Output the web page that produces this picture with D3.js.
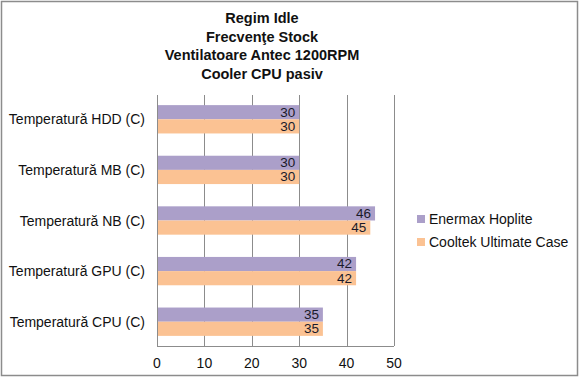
<!DOCTYPE html>
<html>
<head>
<meta charset="utf-8">
<script src="https://cdn.jsdelivr.net/npm/d3@7"></script>
<style>
  body { margin: 0; background: #fff; }
  text { font-family: Arial, "Liberation Sans", sans-serif; }
</style>
</head>
<body>
<div id="chart"></div>
<script>
// Data
const titleLines = ["Regim Idle", "Frecvenţe Stock", "Ventilatoare Antec 1200RPM", "Cooler CPU pasiv"];
const categories = ["Temperatură HDD (C)", "Temperatură MB (C)", "Temperatură NB (C)", "Temperatură GPU (C)", "Temperatură CPU (C)"];
const seriesNames = ["Enermax Hoplite", "Cooltek Ultimate Case"];
const enermax = [30, 30, 46, 42, 35];
const cooltek = [30, 30, 45, 42, 35];
const xTicks = [0, 10, 20, 30, 40, 50];
const colors = ["#ab9fc9", "#fbc293"];

const W = 580, H = 378;
const margin = { top: 95, right: 186, bottom: 32, left: 157 };
const width = W - margin.left - margin.right;
const height = H - margin.top - margin.bottom;

const svg = d3.select("#chart")
    .append("svg")
    .attr("width", W)
    .attr("height", H);

// outer border
svg.append("rect")
    .attr("x", 1.5).attr("y", 1.5)
    .attr("width", W - 4).attr("height", H - 4)
    .attr("fill", "#fff")
    .attr("stroke", "#8c8c8c")
    .attr("stroke-width", 1.5);

// title
svg.append("g").selectAll("text")
    .data(titleLines)
    .enter()
    .append("text")
    .attr("x", 262)
    .attr("y", (d, i) => 23 + i * 18.7)
    .attr("text-anchor", "middle")
    .attr("font-size", 14.5)
    .attr("font-weight", "bold")
    .attr("fill", "#111")
    .text(d => d);

const g = svg.append("g")
    .attr("transform", `translate(${margin.left},${margin.top})`);

const x = d3.scaleLinear().domain([0, 50]).range([0, width]);
const y = d3.scaleBand().domain(categories).range([0, height]).paddingInner(0.44).paddingOuter(0.2);
const ySub = d3.scaleBand().domain(seriesNames).range([0, y.bandwidth()]);

// gridlines
g.append("g").selectAll("line")
    .data(xTicks.slice(1))
    .enter()
    .append("line")
    .attr("x1", d => Math.round(x(d)) + 0.5)
    .attr("x2", d => Math.round(x(d)) + 0.5)
    .attr("y1", 0)
    .attr("y2", height)
    .attr("stroke", "#8c8c8c")
    .attr("stroke-width", 1);

// bars
const values = [enermax, cooltek];
seriesNames.forEach((s, si) => {
    g.append("g").selectAll("rect")
        .data(categories.map((c, i) => ({ c, v: values[si][i] })))
        .enter()
        .append("rect")
        .attr("x", 0)
        .attr("y", d => y(d.c) + ySub(s))
        .attr("width", d => x(d.v))
        .attr("height", ySub.bandwidth())
        .attr("fill", colors[si]);

    g.append("g").selectAll("text")
        .data(categories.map((c, i) => ({ c, v: values[si][i] })))
        .enter()
        .append("text")
        .attr("x", d => x(d.v) - 4)
        .attr("y", d => y(d.c) + ySub(s) + ySub.bandwidth() / 2)
        .attr("dy", "0.36em")
        .attr("text-anchor", "end")
        .attr("font-size", 12)
        .attr("textLength", 15)
        .attr("lengthAdjust", "spacingAndGlyphs")
        .attr("fill", "#1a1a2a")
        .text(d => d.v);
});

// axes lines
g.append("line")
    .attr("x1", 0.5).attr("x2", 0.5)
    .attr("y1", 0).attr("y2", height)
    .attr("stroke", "#8c8c8c");
g.append("line")
    .attr("x1", 0).attr("x2", width)
    .attr("y1", height + 0.5).attr("y2", height + 0.5)
    .attr("stroke", "#8c8c8c");

// x tick labels
g.append("g").selectAll("text")
    .data(xTicks)
    .enter()
    .append("text")
    .attr("x", d => x(d))
    .attr("y", height + 22)
    .attr("text-anchor", "middle")
    .attr("font-size", 14)
    .attr("fill", "#111")
    .text(d => d);

// category labels
g.append("g").selectAll("text")
    .data(categories)
    .enter()
    .append("text")
    .attr("x", -12)
    .attr("y", d => y(d) + y.bandwidth() / 2)
    .attr("dy", "0.36em")
    .attr("text-anchor", "end")
    .attr("font-size", 14)
    .attr("fill", "#111")
    .text(d => d);

// legend
const legend = svg.append("g").attr("transform", "translate(417,219)");
seriesNames.forEach((s, i) => {
    legend.append("rect")
        .attr("x", 0)
        .attr("y", i * 23 - 4)
        .attr("width", 8)
        .attr("height", 8)
        .attr("fill", colors[i]);
    legend.append("text")
        .attr("x", 12)
        .attr("y", i * 23)
        .attr("dy", "0.36em")
        .attr("font-size", 14)
        .attr("fill", "#111")
        .text(s);
});
</script>
</body>
</html>
